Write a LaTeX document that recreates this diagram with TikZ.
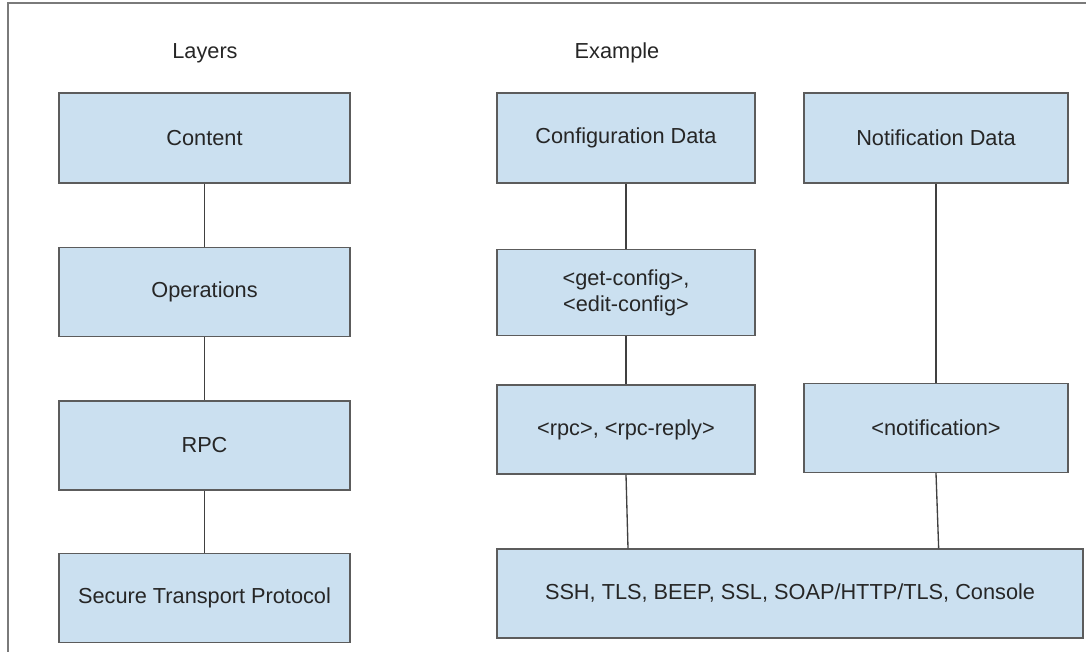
\documentclass[tikz,border=0pt]{standalone}
\usepackage{fontspec}
\setmainfont{Liberation Sans}
\usepackage{xcolor}
\usepackage{tikz}
\usetikzlibrary{positioning}
\definecolor{boxfill}{HTML}{CBE0F0}
\definecolor{boxline}{HTML}{5C5C5C}
\definecolor{frameline}{HTML}{7A7A7A}

\begin{document}
\begin{tikzpicture}[x=0.75pt, y=-0.75pt, node distance=47.25pt,
layer/.style={rectangle,draw=boxline,line width=1.1pt,fill=boxfill,inner sep=0pt,minimum width=218.25pt,minimum height=66.75pt,align=center,text=black!85,font=\fontsize{16.3}{19.5}\selectfont},
example/.style={layer,minimum width=193.5pt},
title/.style={text=black!85,font=\fontsize{16.3}{19.5}\selectfont},
link/.style={draw=black!75,line width=1pt},
frame/.style={draw=frameline,line width=1.2pt}
]
\useasboundingbox (0,0) rectangle (1086,652);

%frame
\draw[frame] (8,652) -- (8,3) -- (1086,3);

%titles
\node[title] (layers) at (205,53) {Layers};
\node[title] (examples) at (617,53) {Example};

%layer column
\node[layer, minimum height=67.5pt] (content) at (204.5,138) {Content};
\node[layer, below=of content] (ops) {Operations};
\node[layer, below=of ops] (rpclayer) {RPC};
\node[layer, below=46.5pt of rpclayer] (transport) {Secure Transport Protocol};

%example column
\node[example, minimum height=67.5pt] (config) at (626,138) {Configuration Data};
\node[example, below=48.75pt of config, minimum height=64.5pt] (getconf) {<get-config>,\\<edit-config>};
\node[example, below=36pt of getconf] (rpc) {<rpc>, <rpc-reply>};
\node[example, minimum width=198pt, minimum height=67.5pt] (notifdata) at (936,138) {Notification Data};
\node[example, minimum width=198pt, below=149.25pt of notifdata] (notif) {<notification>};
\node[example, minimum width=439.5pt] (ssh) at (790,593.5) {SSH, TLS, BEEP, SSL, SOAP/HTTP/TLS, Console};

%draw links
\draw[link] (content) -- (ops);
\draw[link] (ops) -- (rpclayer);
\draw[link] (rpclayer) -- (transport);

\draw[link] (config) -- (getconf);
\draw[link] (getconf) -- (rpc);
\draw[link] (notifdata) -- (notif);
\draw[link] (rpc.south) -- ([xshift=1.5pt]rpc.south |- ssh.north);
\draw[link] (notif.south) -- ([xshift=2pt]notif.south |- ssh.north);

\end{tikzpicture}
\end{document}
